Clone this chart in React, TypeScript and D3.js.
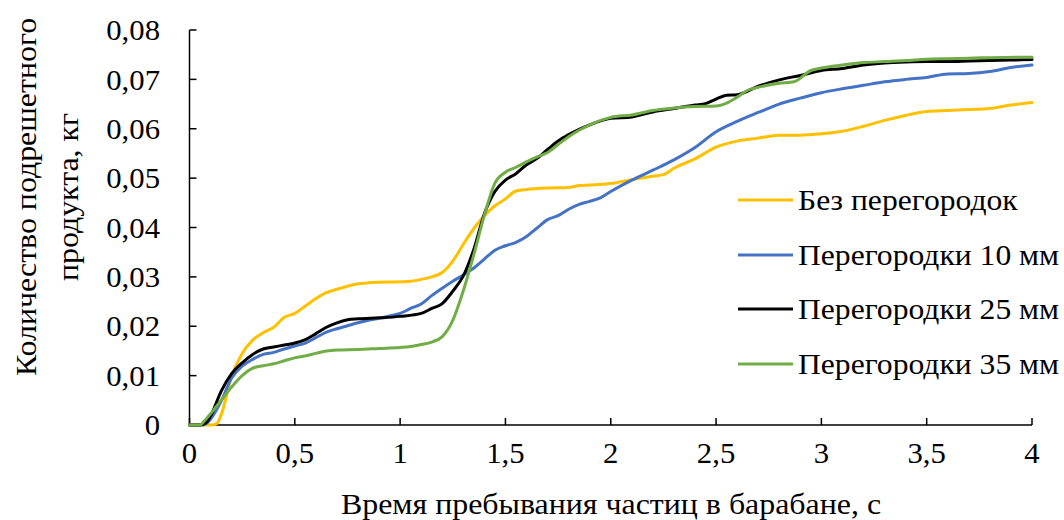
import React from 'react';
import * as d3 from 'd3';

// время, с -> масса, кг
const noPartitions: [number, number][] = [
  [0, 0], [0.05, 0], [0.1, 0], [0.13, 0.0003], [0.15, 0.002], [0.2, 0.0098], [0.25, 0.0145],
  [0.3, 0.0172], [0.35, 0.0187], [0.4, 0.0198], [0.45, 0.0218], [0.5, 0.0226], [0.55, 0.0241],
  [0.6, 0.0256], [0.65, 0.0268], [0.7, 0.0275], [0.75, 0.0281], [0.8, 0.0286], [0.85, 0.0288],
  [0.9, 0.0289], [1.0, 0.029], [1.05, 0.0291], [1.1, 0.0295], [1.15, 0.03], [1.2, 0.0309],
  [1.25, 0.0332], [1.3, 0.0366], [1.35, 0.0398], [1.4, 0.0424], [1.45, 0.0444], [1.5, 0.0458],
  [1.55, 0.0474], [1.6, 0.0477], [1.7, 0.048], [1.8, 0.0481], [1.85, 0.0485], [1.9, 0.0486],
  [2.0, 0.0489], [2.1, 0.0497], [2.2, 0.0504], [2.25, 0.0507], [2.3, 0.052], [2.4, 0.0539],
  [2.5, 0.0563], [2.6, 0.0575], [2.7, 0.0581], [2.8, 0.0587], [2.9, 0.0587], [3.0, 0.059],
  [3.1, 0.0595], [3.2, 0.0605], [3.3, 0.0617], [3.4, 0.0627], [3.5, 0.0635], [3.6, 0.0637],
  [3.7, 0.0639], [3.8, 0.0641], [3.9, 0.0648], [4.0, 0.0653],
];

const partitions10: [number, number][] = [
  [0, 0], [0.05, 0], [0.08, 0.0003], [0.1, 0.0012], [0.15, 0.0048], [0.2, 0.0095], [0.25, 0.0119],
  [0.3, 0.0133], [0.35, 0.0143], [0.4, 0.0147], [0.45, 0.0154], [0.5, 0.016], [0.55, 0.0166],
  [0.6, 0.0177], [0.65, 0.0188], [0.7, 0.0195], [0.75, 0.0201], [0.8, 0.0207], [0.85, 0.0212],
  [0.9, 0.0216], [0.95, 0.0221], [1.0, 0.0226], [1.05, 0.0236], [1.1, 0.0245], [1.15, 0.0262],
  [1.2, 0.0277], [1.25, 0.0291], [1.3, 0.0304], [1.35, 0.0318], [1.4, 0.0336], [1.45, 0.0354],
  [1.5, 0.0363], [1.55, 0.037], [1.6, 0.0382], [1.65, 0.0399], [1.7, 0.0416], [1.75, 0.0424],
  [1.8, 0.0437], [1.85, 0.0447], [1.9, 0.0453], [1.95, 0.046], [2.0, 0.0473], [2.1, 0.0496],
  [2.2, 0.0516], [2.3, 0.0537], [2.4, 0.0562], [2.5, 0.0594], [2.6, 0.0615], [2.7, 0.0633],
  [2.8, 0.065], [2.9, 0.0662], [3.0, 0.0673], [3.1, 0.0681], [3.2, 0.0688], [3.3, 0.0695],
  [3.4, 0.07], [3.5, 0.0704], [3.6, 0.0711], [3.7, 0.0712], [3.8, 0.0716], [3.9, 0.0724],
  [4.0, 0.0729],
];

const partitions25: [number, number][] = [
  [0, 0], [0.05, 0], [0.08, 0.0005], [0.1, 0.0018], [0.15, 0.0068], [0.2, 0.0104], [0.25, 0.0126],
  [0.3, 0.0143], [0.35, 0.0154], [0.4, 0.0158], [0.45, 0.0162], [0.5, 0.0166], [0.55, 0.0173],
  [0.6, 0.0185], [0.65, 0.0198], [0.7, 0.0207], [0.75, 0.0213], [0.8, 0.0215], [0.9, 0.0217],
  [1.0, 0.022], [1.1, 0.0226], [1.15, 0.0236], [1.2, 0.0246], [1.25, 0.0271], [1.3, 0.0302],
  [1.35, 0.0356], [1.4, 0.0428], [1.45, 0.0473], [1.5, 0.0496], [1.55, 0.0509], [1.6, 0.0527],
  [1.65, 0.054], [1.7, 0.0558], [1.75, 0.0575], [1.8, 0.0588], [1.85, 0.0599], [1.9, 0.0608],
  [2.0, 0.0621], [2.1, 0.0624], [2.2, 0.0634], [2.3, 0.0641], [2.4, 0.0648], [2.45, 0.0651],
  [2.5, 0.066], [2.55, 0.0668], [2.6, 0.0669], [2.7, 0.0686], [2.8, 0.0699], [2.9, 0.0708],
  [3.0, 0.0718], [3.1, 0.0722], [3.2, 0.0729], [3.3, 0.0733], [3.4, 0.0735], [3.5, 0.0736],
  [3.6, 0.0736], [3.7, 0.0737], [3.8, 0.0738], [3.9, 0.0739], [4.0, 0.074],
];

const partitions35: [number, number][] = [
  [0, 0], [0.05, 0], [0.07, 0.0008], [0.1, 0.0023], [0.15, 0.005], [0.2, 0.0077], [0.25, 0.01],
  [0.3, 0.0115], [0.35, 0.012], [0.4, 0.0124], [0.45, 0.013], [0.5, 0.0136], [0.55, 0.014],
  [0.6, 0.0145], [0.65, 0.015], [0.7, 0.0152], [0.8, 0.0153], [0.9, 0.0155], [1.0, 0.0157],
  [1.05, 0.0159], [1.1, 0.0163], [1.15, 0.0168], [1.2, 0.0179], [1.25, 0.0212], [1.3, 0.0272],
  [1.35, 0.0345], [1.4, 0.0425], [1.45, 0.049], [1.5, 0.0512], [1.55, 0.0522], [1.6, 0.0533],
  [1.65, 0.0543], [1.7, 0.0552], [1.75, 0.0568], [1.8, 0.0584], [1.85, 0.0597], [1.9, 0.0608],
  [2.0, 0.0623], [2.1, 0.0628], [2.2, 0.0637], [2.3, 0.0642], [2.4, 0.0645], [2.5, 0.0646],
  [2.55, 0.0652], [2.6, 0.0664], [2.65, 0.0678], [2.7, 0.0684], [2.8, 0.0692], [2.87, 0.0695],
  [2.95, 0.0718], [3.0, 0.0723], [3.1, 0.0729], [3.2, 0.0734], [3.3, 0.0736], [3.4, 0.0738],
  [3.5, 0.0741], [3.6, 0.0742], [3.7, 0.0743], [3.8, 0.0744], [4.0, 0.0745],
];

const seriesNames = ['Без перегородок', 'Перегородки 10 мм', 'Перегородки 25 мм', 'Перегородки 35 мм'];
const seriesColors = ['#FFC000', '#4472C4', '#000000', '#70AD47'];
const seriesData = [noPartitions, partitions10, partitions25, partitions35];

const xTicks = [0, 0.5, 1, 1.5, 2, 2.5, 3, 3.5, 4];
const yTicks = [0, 0.01, 0.02, 0.03, 0.04, 0.05, 0.06, 0.07, 0.08];
const commaFmt = (v: number) => String(v).replace('.', ',');

// text in the original is a bit wider than Liberation Serif, so stretch it a little
function Txt({ x, y, anchor = 'start', rotate = 0, sx = 1.09, children }: any) {
  return (
    <g transform={`translate(${x},${y}) rotate(${rotate}) scale(${sx},1)`}>
      <text x={0} y={0} dy="0.35em" textAnchor={anchor} fontSize={29}>{children}</text>
    </g>
  );
}

export default function App() {
  const width = 1064;
  const height = 520;
  const font = '"Liberation Serif", "Times New Roman", serif';

  const x = d3.scaleLinear().domain([0, 4]).range([189.5, 1032]);
  const y = d3.scaleLinear().domain([0, 0.08]).range([425, 30]);

  const line = d3.line<[number, number]>()
    .x(d => x(d[0]))
    .y(d => y(d[1]))
    .curve(d3.curveMonotoneX);

  //legend
  const legendX = 738;
  const legendY = [200, 255, 309, 364];

  return (
    <svg width={width} height={height} style={{ position: 'absolute', left: 0, top: 0, background: '#fff' }}
      fontFamily={font}>
      {/* axes */}
      <line x1={x(0)} x2={x(0)} y1={y(0.08)} y2={y(0)} stroke="#000" strokeWidth={1.5} />
      <line x1={x(0)} x2={x(4)} y1={y(0)} y2={y(0)} stroke="#000" strokeWidth={1.5} />
      {yTicks.map(t => (
        <g key={'y' + t}>
          <line x1={x(0)} x2={x(0) + 7} y1={y(t)} y2={y(t)} stroke="#000" strokeWidth={1.5} />
          <Txt x={160} y={y(t)} anchor="end" sx={1.06}>{commaFmt(t)}</Txt>
        </g>
      ))}
      {xTicks.map(t => (
        <g key={'x' + t}>
          <line x1={x(t)} x2={x(t)} y1={y(0)} y2={y(0) - 7} stroke="#000" strokeWidth={1.5} />
          <Txt x={x(t)} y={453} anchor="middle" sx={1.06}>{commaFmt(t)}</Txt>
        </g>
      ))}

      {/* series */}
      {seriesData.map((d, i) => (
        <path key={seriesNames[i]} d={line(d) ?? ''} fill="none" stroke={seriesColors[i]}
          strokeWidth={3} strokeLinejoin="round" strokeLinecap="round" />
      ))}

      {seriesNames.map((name, i) => (
        <g key={'lg' + i}>
          <line x1={legendX} x2={legendX + 55} y1={legendY[i]} y2={legendY[i]}
            stroke={seriesColors[i]} strokeWidth={3} />
          <Txt x={legendX + 60} y={legendY[i]}>{name}</Txt>
        </g>
      ))}

      {/* axis titles */}
      <Txt x={611} y={504} anchor="middle" sx={1.1}>Время пребывания частиц в барабане, с</Txt>
      <Txt x={26} y={197} anchor="middle" rotate={-90} sx={1.1}>Количество подрешетного</Txt>
      <Txt x={68} y={197} anchor="middle" rotate={-90} sx={1.1}>продукта, кг</Txt>
    </svg>
  );
}
